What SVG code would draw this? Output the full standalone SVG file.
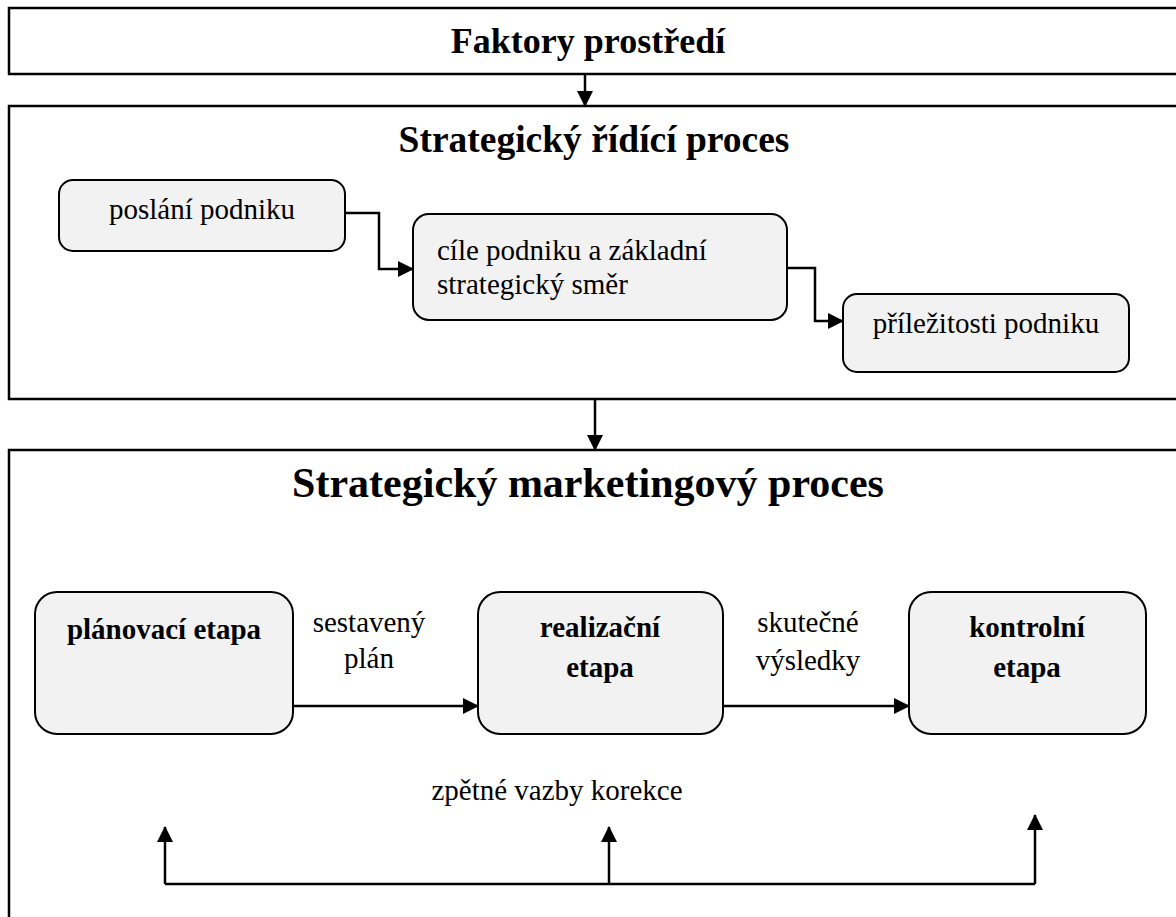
<svg xmlns="http://www.w3.org/2000/svg" width="1176" height="917" viewBox="0 0 1176 917" font-family="'Liberation Serif', 'Times New Roman', serif">
<style>
.frame{fill:#fff;stroke:#000;stroke-width:2.5}
.node{fill:#f2f2f2;stroke:#000;stroke-width:2}
text{font-family:'Liberation Serif','Times New Roman',serif;fill:#000}
.t{font-size:29px}
.b{font-weight:bold}
.title{font-size:36px;font-weight:bold}
.c{fill:none;stroke:#000;stroke-width:2.5}
</style>
<defs>
<marker id="arr" markerUnits="userSpaceOnUse" markerWidth="16" markerHeight="16" viewBox="0 0 16 16" refX="15" refY="8" orient="auto">
<path d="M0,0 L16,8 L0,16 Z" fill="#000"/>
</marker>
</defs>
<rect width="1176" height="917" fill="#fff"/>
<g id="faktory">
<rect class="frame" x="9" y="8" width="1200" height="66"/>
<text class="title" x="588" y="53" text-anchor="middle">Faktory prostředí</text>
</g>
<g id="ridici-proces">
<rect class="frame" x="9" y="106" width="1200" height="293"/>
<text class="title" x="594" y="152" text-anchor="middle" style="font-size:37.5px">Strategický řídící proces</text>
</g>
<g id="marketing-proces">
<rect class="frame" x="9" y="450" width="1200" height="500"/>
<text class="title" x="588" y="497" text-anchor="middle" style="font-size:42px">Strategický marketingový proces</text>
</g>
<g id="poslani">
<rect class="node" x="59" y="180" width="286" height="71" rx="14"/>
<text class="t" x="202" y="219" text-anchor="middle">poslání podniku</text>
</g>
<g id="cile">
<rect class="node" x="413" y="214" width="374" height="106" rx="16"/>
<text class="t" x="437" y="260">cíle podniku a základní</text>
<text class="t" x="437" y="294">strategický směr</text>
</g>
<g id="prilezitosti">
<rect class="node" x="843" y="294" width="286" height="78" rx="14"/>
<text class="t" x="986" y="333" text-anchor="middle">příležitosti podniku</text>
</g>
<g id="planovaci">
<rect class="node" x="35" y="592" width="258" height="142" rx="22"/>
<text class="t b" x="164" y="639" text-anchor="middle">plánovací etapa</text>
</g>
<g id="realizacni">
<rect class="node" x="478" y="592" width="245" height="142" rx="22"/>
<text class="t b" x="600" y="637" text-anchor="middle">realizační</text>
<text class="t b" x="600" y="677" text-anchor="middle">etapa</text>
</g>
<g id="kontrolni">
<rect class="node" x="909" y="592" width="237" height="142" rx="22"/>
<text class="t b" x="1027" y="637" text-anchor="middle">kontrolní</text>
<text class="t b" x="1027" y="677" text-anchor="middle">etapa</text>
</g>
<g id="connectors">
<path class="c" d="M585,74 V106" marker-end="url(#arr)"/>
<path class="c" d="M595,399 V450" marker-end="url(#arr)"/>
<path class="c" d="M345,213 H379 V269 H413" marker-end="url(#arr)"/>
<path class="c" d="M787,268 H815 V321 H843" marker-end="url(#arr)"/>
<path class="c" d="M293,706 H478" marker-end="url(#arr)"/>
<path class="c" d="M723,706 H909" marker-end="url(#arr)"/>
<path class="c" d="M165,884 H1035"/>
<path class="c" d="M165,884 V827" marker-end="url(#arr)"/>
<path class="c" d="M609,884 V827" marker-end="url(#arr)"/>
<path class="c" d="M1035,884 V815" marker-end="url(#arr)"/>
</g>
<g id="labels">
<text class="t" x="369" y="632" text-anchor="middle">sestavený</text>
<text class="t" x="369" y="668" text-anchor="middle">plán</text>
<text class="t" x="808" y="632" text-anchor="middle">skutečné</text>
<text class="t" x="808" y="670" text-anchor="middle">výsledky</text>
<text class="t" x="557" y="800" text-anchor="middle">zpětné vazby korekce</text>
</g>
</svg>
